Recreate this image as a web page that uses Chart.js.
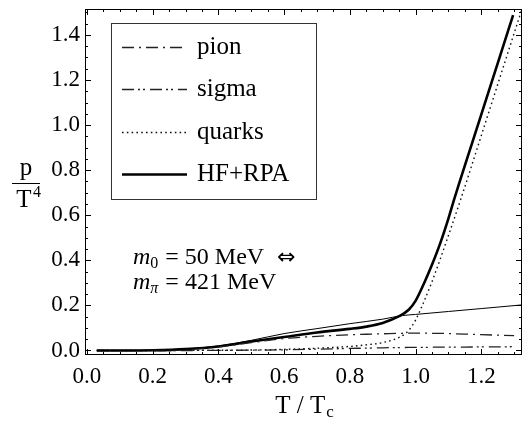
<!DOCTYPE html>
<html lang="en">
<head>
<meta charset="UTF-8">
<title>Pressure p/T^4 vs T/Tc</title>
<script src="https://cdn.jsdelivr.net/npm/chart.js"></script>
<style>
  html, body { margin: 0; padding: 0; background: #fff; }
  #wrap { width: 523px; height: 422px; }
</style>
</head>
<body>
<div id="wrap"><canvas id="pressureChart" width="523" height="422"></canvas></div>
<script>
// values (x = T/Tc, y = p/T^4)
const tGrid   = [0.03, 0.1, 0.2, 0.3, 0.4, 0.5, 0.6, 0.7, 0.8, 0.85, 0.9, 0.95, 0.98, 1.0, 1.025, 1.05, 1.075, 1.1, 1.15, 1.2, 1.25, 1.3];
const pion    = [0, 0, 0.001, 0.005, 0.016, 0.035, 0.053, 0.063, 0.070, 0.072, 0.074, 0.076, 0.077, 0.077, 0.077, 0.076, 0.076, 0.075, 0.073, 0.070, 0.068, 0.066];
const sigma   = [0, 0, 0, 0, 0.0005, 0.0015, 0.003, 0.006, 0.009, 0.0105, 0.012, 0.013, 0.0135, 0.014, 0.014, 0.0145, 0.0145, 0.015, 0.015, 0.016, 0.016, 0.017];

const tQuarks = [0.03, 0.1, 0.2, 0.3, 0.4, 0.5, 0.6, 0.7, 0.8, 0.85, 0.9, 0.95, 0.97, 0.98, 1.0, 1.025, 1.05, 1.075, 1.1, 1.137, 1.2, 1.25, 1.3, 1.323];
const quarks  = [0, 0, 0, 0.0005, 0.001, 0.002, 0.005, 0.01, 0.018, 0.025, 0.035, 0.058, 0.076, 0.09, 0.135, 0.215, 0.305, 0.405, 0.51, 0.668, 0.953, 1.18, 1.407, 1.51];

const tHF     = [0.03, 0.1, 0.2, 0.3, 0.4, 0.5, 0.6, 0.7, 0.8, 0.85, 0.9, 0.95, 0.98, 1.0, 1.025, 1.05, 1.075, 1.1, 1.117, 1.2, 1.25, 1.297];
const hfRpa   = [0, 0, 0.001, 0.006, 0.018, 0.04, 0.06, 0.08, 0.096, 0.106, 0.122, 0.152, 0.182, 0.22, 0.295, 0.38, 0.475, 0.585, 0.668, 1.046, 1.274, 1.488];

const tThin   = [0.03, 0.1, 0.2, 0.3, 0.4, 0.5, 0.6, 0.7, 0.8, 0.9, 0.96, 1.0, 1.1, 1.2, 1.33];
const thinRef = [0, 0, 0.001, 0.006, 0.02, 0.045, 0.075, 0.097, 0.119, 0.139, 0.155, 0.16, 0.173, 0.186, 0.203];

const xTickValues = [0, 0.2, 0.4, 0.6, 0.8, 1.0, 1.2];
const xTickLabels = ['0.0', '0.2', '0.4', '0.6', '0.8', '1.0', '1.2'];
const yTickValues = [0, 0.2, 0.4, 0.6, 0.8, 1.0, 1.2, 1.4];
const yTickLabels = ['0.0', '0.2', '0.4', '0.6', '0.8', '1.0', '1.2', '1.4'];

const SERIF = '"Liberation Serif", "Times New Roman", Times, serif';

function pts(xs, ys) {
    return xs.map((x, i) => ({ x: x, y: ys[i] }));
}

// frame with inward ticks, tick labels, axis titles, legend box and note
const decorations = {
    id: 'decorations',
    afterDraw(chart) {
        const ctx = chart.ctx;
        const a = chart.chartArea;
        const xs = chart.scales.x, ys = chart.scales.y;
        ctx.save();
        ctx.strokeStyle = '#000';
        ctx.lineWidth = 1;
        ctx.strokeRect(a.left + 0.5, a.top + 0.5, a.right - a.left - 1, a.bottom - a.top - 1);

        ctx.beginPath();
        for (let i = 0; i <= 26; i++) {
            const px = Math.round(xs.getPixelForValue(i * 5 / 100)) + 0.5;
            const len = i % 4 === 0 ? 6 : 3;
            ctx.moveTo(px, a.bottom); ctx.lineTo(px, a.bottom - len);
            ctx.moveTo(px, a.top); ctx.lineTo(px, a.top + len);
        }
        for (let i = 0; i <= 30; i++) {
            const py = Math.round(ys.getPixelForValue(i * 5 / 100)) + 0.5;
            if (py < a.top) continue;
            const len = i % 4 === 0 ? 6 : 3;
            ctx.moveTo(a.left, py); ctx.lineTo(a.left + len, py);
            ctx.moveTo(a.right, py); ctx.lineTo(a.right - len, py);
        }
        ctx.stroke();

        ctx.fillStyle = '#000';
        ctx.font = '23px ' + SERIF;
        ctx.textAlign = 'center';
        ctx.textBaseline = 'middle';
        xTickValues.forEach((v, i) => ctx.fillText(xTickLabels[i], xs.getPixelForValue(v), 377));
        ctx.textAlign = 'right';
        yTickValues.forEach((v, i) => ctx.fillText(yTickLabels[i], a.left - 5, ys.getPixelForValue(v)));

        // x title: T / Tc
        ctx.font = '25px ' + SERIF;
        ctx.textAlign = 'left';
        const main = 'T / T';
        const wMain = ctx.measureText(main).width;
        ctx.font = '17px ' + SERIF;
        const wSub = ctx.measureText('c').width;
        let x0 = 304 - (wMain + wSub) / 2;
        ctx.font = '25px ' + SERIF;
        ctx.fillText(main, x0, 406);
        ctx.font = '17px ' + SERIF;
        ctx.fillText('c', x0 + wMain + 1, 413);

        // y title: p / T^4
        ctx.font = '25px ' + SERIF;
        ctx.textAlign = 'center';
        ctx.fillText('p', 26, 168);
        ctx.beginPath();
        ctx.moveTo(12, 183.5); ctx.lineTo(40, 183.5);
        ctx.stroke();
        ctx.fillText('T', 24, 200);
        ctx.font = '16px ' + SERIF;
        ctx.fillText('4', 37, 193);

        // legend box
        ctx.lineWidth = 1;
        ctx.strokeStyle = '#333';
        ctx.strokeRect(111.5, 23.5, 205, 176);
        const rows = [47, 89, 132, 174];
        chart.data.datasets.filter(d => d.label).forEach((d, i) => {
            ctx.save();
            ctx.strokeStyle = d.borderColor;
            ctx.lineWidth = d.borderWidth;
            ctx.setLineDash(d.borderDash || []);
            ctx.beginPath();
            ctx.moveTo(122, rows[i] + 0.5); ctx.lineTo(187, rows[i] + 0.5);
            ctx.stroke();
            ctx.restore();
            ctx.font = '25px ' + SERIF;
            ctx.textAlign = 'left';
            ctx.fillText(d.label, 197, rows[i]);
        });

        // mass note
        function note(y, sub, rest) {
            let x = 133;
            ctx.textAlign = 'left';
            ctx.font = 'italic 24px ' + SERIF;
            ctx.fillText('m', x, y);
            x += ctx.measureText('m').width;
            ctx.font = (sub === 'π' ? 'italic ' : '') + '16px ' + SERIF;
            ctx.fillText(sub, x, y + 6);
            x += ctx.measureText(sub).width + 1;
            ctx.font = '24px ' + SERIF;
            ctx.fillText(rest, x, y);
            return x + ctx.measureText(rest).width;
        }
        note(258, '0', ' = 50 MeV');
        note(283, 'π', ' = 421 MeV');
        ctx.font = '22px "DejaVu Sans", sans-serif';
        ctx.fillText('\u21D4', 277, 258);
        ctx.restore();
    }
};

new Chart(document.getElementById('pressureChart'), {
    type: 'line',
    data: {
        datasets: [
            { data: pts(tThin, thinRef), borderColor: '#000', borderWidth: 1 },
            { label: 'pion', data: pts(tGrid, pion), borderColor: '#222', borderWidth: 1.3, borderDash: [12, 5, 2, 5] },
            { label: 'sigma', data: pts(tGrid, sigma), borderColor: '#222', borderWidth: 1.3, borderDash: [12, 4, 2, 3, 2, 5] },
            { label: 'quarks', data: pts(tQuarks, quarks), borderColor: '#111', borderWidth: 1.4, borderDash: [1.6, 3.2] },
            { label: 'HF+RPA', data: pts(tHF, hfRpa), borderColor: '#000', borderWidth: 2.6 }
        ]
    },
    options: {
        responsive: false,
        animation: false,
        events: [],
        layout: { padding: { left: 85, top: 9, right: 1, bottom: 67 } },
        elements: {
            point: { radius: 0 },
            line: { cubicInterpolationMode: 'monotone', fill: false }
        },
        scales: {
            x: { type: 'linear', min: -0.006, max: 1.324, display: false },
            y: { type: 'linear', min: -0.02, max: 1.515, display: false }
        },
        plugins: {
            legend: { display: false },
            tooltip: { enabled: false }
        }
    },
    plugins: [decorations]
});
</script>
</body>
</html>
